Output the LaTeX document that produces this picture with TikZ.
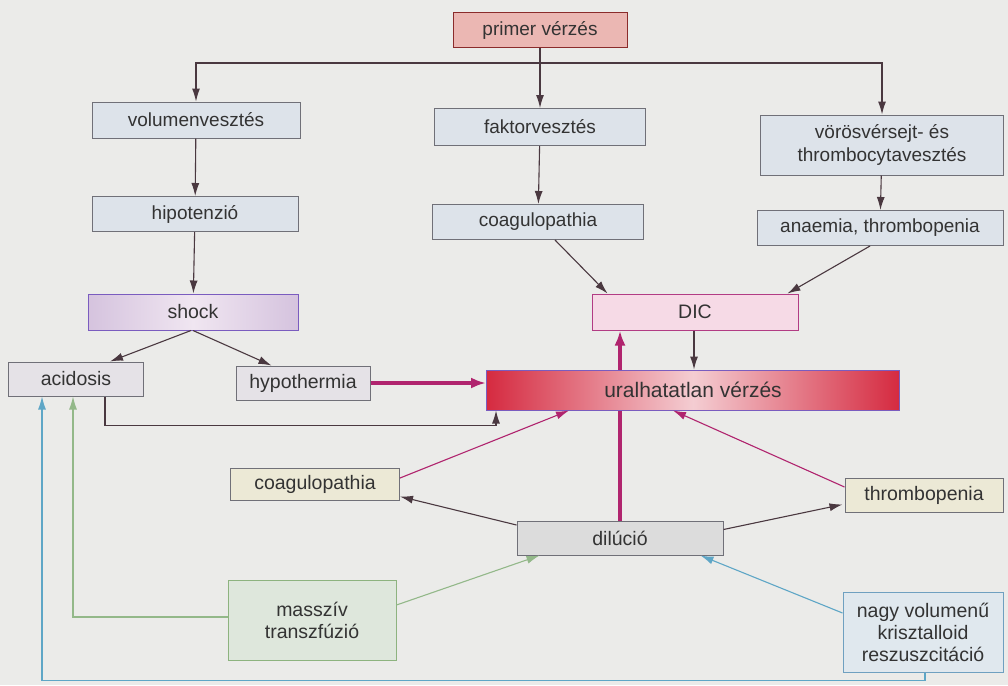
\documentclass[tikz,border=0pt]{standalone}
\usepackage{fontspec}
\setmainfont{Liberation Sans}
\usetikzlibrary{arrows.meta,backgrounds,calc}
\definecolor{bg}{HTML}{EBEBE9}
\definecolor{primfill}{HTML}{EBB7B3}
\definecolor{primline}{HTML}{8A2B2B}
\definecolor{bluefill}{HTML}{DDE3EA}
\definecolor{boxline}{HTML}{707078}
\definecolor{dk}{HTML}{4A3840}
\definecolor{mag}{HTML}{B0246E}
\definecolor{grn}{HTML}{93B889}
\definecolor{cy}{HTML}{5EA6C6}
\definecolor{shockline}{HTML}{7A5CBF}
\definecolor{shockedge}{HTML}{D5C3DE}
\definecolor{shockmid}{HTML}{F0E6F1}
\definecolor{dicfill}{HTML}{F6DAE6}
\definecolor{dicline}{HTML}{B23C84}
\definecolor{uraledge}{HTML}{D52A40}
\definecolor{uralmid}{HTML}{F4CDD2}
\definecolor{greyfill}{HTML}{E5E2E7}
\definecolor{beige}{HTML}{ECE9D6}
\definecolor{dilfill}{HTML}{DCDCDC}
\definecolor{grnfill}{HTML}{DEE7DC}
\definecolor{grnline}{HTML}{8DB37F}
\definecolor{cyfill}{HTML}{E0E8EE}
\definecolor{cyline}{HTML}{6FA0C0}
\tikzset{
  box/.style={draw=boxline, line width=1pt, inner sep=0pt, align=center,
    font=\fontsize{19.5}{22}\selectfont, text=black!80},
  sz/.style 2 args={minimum width=#1pt, minimum height=#2pt},
  blu/.style={box, fill=bluefill, font=\fontsize{19}{23}\selectfont},
  arr/.style={-{Latex[length=13pt,width=8pt]}, line width=1.1pt, draw=dk},
  marr/.style={-{Latex[length=13pt,width=8pt]}, line width=1.1pt, draw=mag},
  tharr/.style={-{Latex[length=15pt,width=11pt]}, line width=3.4pt, draw=mag},
  garr/.style={-{Latex[length=13pt,width=8pt]}, line width=1.1pt, draw=grn},
  carr/.style={-{Latex[length=13pt,width=8pt]}, line width=1.1pt, draw=cy},
}
\begin{document}
\begin{tikzpicture}[x=1pt,y=-1pt]
\useasboundingbox (0,0) rectangle (1008,685);
% nodes
\node[box, sz={174}{35}, fill=primfill, draw=primline, font=\fontsize{19}{23}\selectfont] (prim) at (540,30) {primer vérzés};
\node[blu, sz={208}{36}] (vol) at (196,120) {volumenvesztés};
\node[blu, sz={211}{37}] (fak) at (540,127) {faktorvesztés};
\node[blu, sz={243}{60}] (vor) at (882,145) {vörösvérsejt- és\\thrombocytavesztés};
\node[blu, sz={206}{35}] (hip) at (195,214) {hipotenzió};
\node[blu, sz={211}{35}] (coaga) at (538,222) {coagulopathia};
\node[blu, sz={246}{35}] (ana) at (880,228) {anaemia, thrombopenia};
\node[box, sz={210}{36}, draw=shockline, left color=shockedge, right color=shockedge, middle color=shockmid] (shock) at (193,312) {shock};
\node[box, sz={206}{36}, draw=dicline, fill=dicfill] (dic) at (695,312) {DIC};
\node[box, sz={135}{34}, fill=greyfill] (acid) at (76,379) {acidosis};
\node[box, sz={134}{34}, fill=greyfill] (hypo) at (303,383) {hypothermia};
\node[box, sz={413}{40}, draw=shockline, left color=uraledge, right color=uraledge, middle color=uralmid, font=\fontsize{21}{24}\selectfont] (ural) at (693,390) {uralhatatlan vérzés};
\node[box, sz={169}{32}, fill=beige] (coagb) at (315,484) {coagulopathia};
\node[box, sz={158}{34}, fill=beige] (thr) at (924,495) {thrombopenia};
\node[box, sz={206}{34}, fill=dilfill] (dil) at (620,538) {dilúció};
\node[box, sz={168}{80}, fill=grnfill, draw=grnline] (mass) at (312,620) {masszív\\transzfúzió};
\node[box, sz={160}{80}, fill=cyfill, draw=cyline] (nagy) at (923,632) {nagy volumenű\\krisztalloid\\reszuszcitáció};
\coordinate (bus) at (540,63);
% connectors
\begin{pgfonlayer}{background}
\fill[bg] (0,0) rectangle (1008,685);
\draw[tharr] (dil.north) -- (dic.south -| dil.north);
\end{pgfonlayer}
\draw[arr] (prim) -- (fak);
\draw[arr] (bus) -| (vol.north);
\draw[arr] (bus) -| (vor.north);
\draw[arr] (vol) -- (hip);
\draw[arr] (fak) -- (coaga);
\draw[arr] (vor) -- (ana);
\draw[arr] (hip) -- (shock);
\draw[arr] ($(coaga.south)+(17,0)$) -- ($(dic.north west)+(16,0)$);
\draw[arr] ($(ana.south)+(-10,0)$) -- ($(dic.north east)+(-11,0)$);
\draw[arr] ($(shock.south)+(-2,0)$) -- ($(acid.north east)+(-34,0)$);
\draw[arr] (shock.south) -- ($(hypo.north west)+(36,0)$);
\draw[arr] (694,0 |- dic.south) -- (694,0 |- ural.north);
\draw[tharr] (hypo.east) -- (ural.west |- hypo.east);
\draw[arr] ($(acid.south)+(29,0)$) -- ++(0,29) -| ($(ural.south west)+(10,0)$);
\draw[marr] ($(coagb.east)+(0,-6)$) -- ($(ural.south west)+(83,0)$);
\draw[marr] ($(thr.west)+(0,-8)$) -- ($(ural.south east)+(-227,0)$);
\draw[arr] ($(dil.west)+(0,-13)$) -- ($(coagb.south east)+(0,-4)$);
\draw[arr] ($(dil.north east)+(0,9)$) -- ($(thr.south west)+(-2,-8)$);
\draw[garr] ($(mass.east)+(0,-15)$) -- ($(dil.south west)+(23,0)$);
\draw[garr] ($(mass.west)+(0,-3)$) -| ($(acid.south)+(-3,0)$);
\draw[carr] ($(nagy.west)+(0,-19)$) -- ($(dil.south east)+(-23,0)$);
\draw[carr] ($(nagy.south)+(2,0)$) -- ++(0,8) -| ($(acid.south)+(-34,0)$);
\end{tikzpicture}
\end{document}
